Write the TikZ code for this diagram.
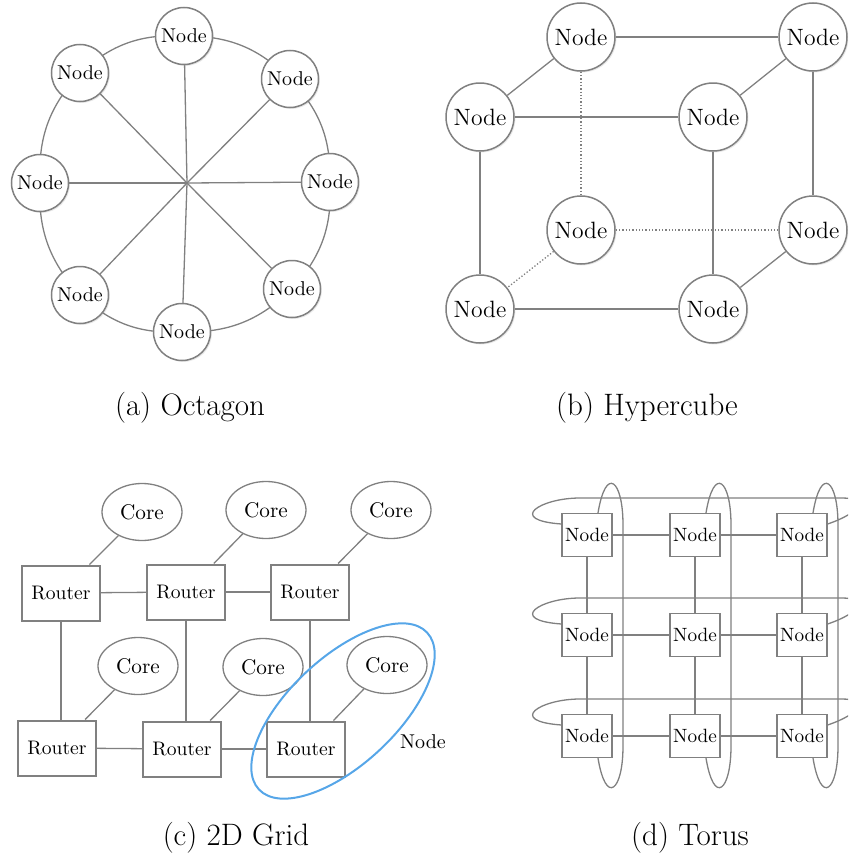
\documentclass[tikz,border=0pt]{standalone}
\usepackage{tikz}
\usetikzlibrary{shapes.geometric,shadows,calc,backgrounds}

\definecolor{linegray}{RGB}{128,128,128}
\definecolor{selblue}{RGB}{86,166,232}

\begin{document}
\begin{tikzpicture}[
    x=0.5pt, y=-0.5pt,
    wire/.style={draw=linegray, line width=0.65pt},
    hidden/.style={draw=linegray, line width=0.65pt, densely dotted},
    octnode/.style={circle, draw=linegray, line width=0.75pt, fill=white, minimum size=28.5pt, inner sep=0pt,
        font=\fontsize{10}{12}\selectfont, drop shadow={opacity=0.18, shadow xshift=0.7pt, shadow yshift=-0.7pt}},
    cubenode/.style={octnode, minimum size=34pt, font=\fontsize{11.8}{14}\selectfont},
    router/.style={draw=linegray, line width=1pt, fill=white, minimum width=39pt, minimum height=27.5pt, inner sep=0pt,
        font=\fontsize{9.8}{12}\selectfont},
    core/.style={ellipse, draw=linegray, line width=0.65pt, fill=white, minimum width=40pt, minimum height=28.5pt,
        inner sep=0pt, font=\fontsize{10.6}{12}\selectfont},
    tnode/.style={draw=linegray, line width=0.65pt, fill=white, minimum width=25pt, minimum height=21.5pt, inner sep=0pt,
        font=\fontsize{9.6}{11}\selectfont},
    caption/.style={font=\fontsize{15.5}{18}\selectfont},
]
\useasboundingbox (0,0) rectangle (848,862);
\clip (0,0) rectangle (848,862);

% ---- (a) octagon ----
\coordinate (ctr) at (187,183);
\foreach \n/\x/\y in {1/184/36, 2/290/79, 3/330/182, 4/292/289, 5/182/332, 6/80/295, 7/40/183, 8/80/73} {
    \node[octnode] (o\n) at (\x,\y) {Node};
}
\begin{scope}[on background layer]
\foreach \n [evaluate=\n as \m using {int(mod(\n,8)+1)}] in {1,...,8} {
    \draw[wire] (o\n.center) to[bend left=22.5] (o\m.center);
}
\end{scope}
\foreach \n in {1,...,8} {
    \draw[wire] (o\n) -- (ctr);
}
\node[caption] (capa) at (190,408) {(a) Octagon};

% ---- (b) hypercube ----
\foreach \nm/\x/\y in {btl/581/37, btr/813/37, ftl/480/117, ftr/713/117, bbl/581/230, bbr/813/230, fbl/480/309, fbr/713/309} {
    \node[cubenode] (\nm) at (\x,\y) {Node};
}
\draw[wire] (btl) -- (btr);
\draw[wire] (btl) -- (ftl);
\draw[wire] (btr) -- (ftr);
\draw[wire] (ftl) -- (ftr);
\draw[wire] (ftl) -- (fbl);
\draw[wire] (ftr) -- (fbr);
\draw[wire] (btr) -- (bbr);
\draw[wire] (bbr) -- (fbr);
\draw[wire] (fbl) -- (fbr);
\draw[hidden] (btl) -- (bbl);
\draw[hidden] (bbl) -- (bbr);
\draw[hidden] (bbl) -- (fbl);
\node[caption] (capb) at (647,408) {(b) Hypercube};

% ---- (c) 2D grid ----
\foreach \nm/\x/\y in {r11/61/593, r12/186/592, r13/310/592, r21/57/748, r22/182/749, r23/306/749} {
    \node[router] (\nm) at (\x,\y) {Router};
}
\foreach \nm/\x/\y in {c11/142/512, c12/266/510, c13/391/510, c21/138/666, c22/263/667, c23/387/665} {
    \node[core] (\nm) at (\x,\y) {Core};
}
\foreach \i in {11,12,13,21,22,23} {
    \draw[wire] (c\i) -- (r\i);
}
\draw[wire] (r11) -- (r12);
\draw[wire] (r12) -- (r13);
\draw[wire] (r21) -- (r22);
\draw[wire] (r22) -- (r23);
\foreach \j in {1,2,3} {
    \draw[wire] (r1\j.south) -- (r1\j.south |- r2\j.north);
}
\coordinate (grp) at (343,711);
\draw[selblue, line width=1pt, rotate around={43:(grp)}] (grp) ellipse [x radius=57.5pt, y radius=26.75pt];
\node[font=\fontsize{10}{12}\selectfont] (grplbl) at (423,742) {Node};
\node[caption] (capc) at (236,838) {(c) 2D Grid};

% ---- (d) torus ----
\foreach \r/\y in {1/535, 2/635, 3/736} {
    \foreach \c/\x in {1/587, 2/695, 3/802} {
        \node[tnode] (t\r\c) at (\x,\y) {Node};
    }
}
\foreach \r in {1,2,3} {
    \draw[wire] (t\r1) -- (t\r2);
    \draw[wire] (t\r2) -- (t\r3);
    \draw[wire] (t1\r) -- (t2\r);
    \draw[wire] (t2\r) -- (t3\r);
}
% wrap-around links
\foreach \r in {1,2,3} {
    \draw[wire] ($(t\r1.west)+(0,-11)$) .. controls +(-55,-4) and +(-40,0) .. ($(t\r1.center)+(-7,-37)$)
        -- ($(t\r3.center)+(40,-37)$) .. controls +(25,0) and +(35,-12) .. ($(t\r3.east)+(0,-11)$);
}
\foreach \c in {1,2,3} {
    \draw[wire] ($(t1\c.north)+(11,0)$) .. controls +(8,-48) and +(0,-45) .. ($(t1\c.center)+(36,-10)$)
        -- ($(t3\c.center)+(36,10)$) .. controls +(0,45) and +(8,48) .. ($(t3\c.south)+(11,0)$);
}
\node[caption] (capd) at (690,838) {(d) Torus};
\end{tikzpicture}
\end{document}
